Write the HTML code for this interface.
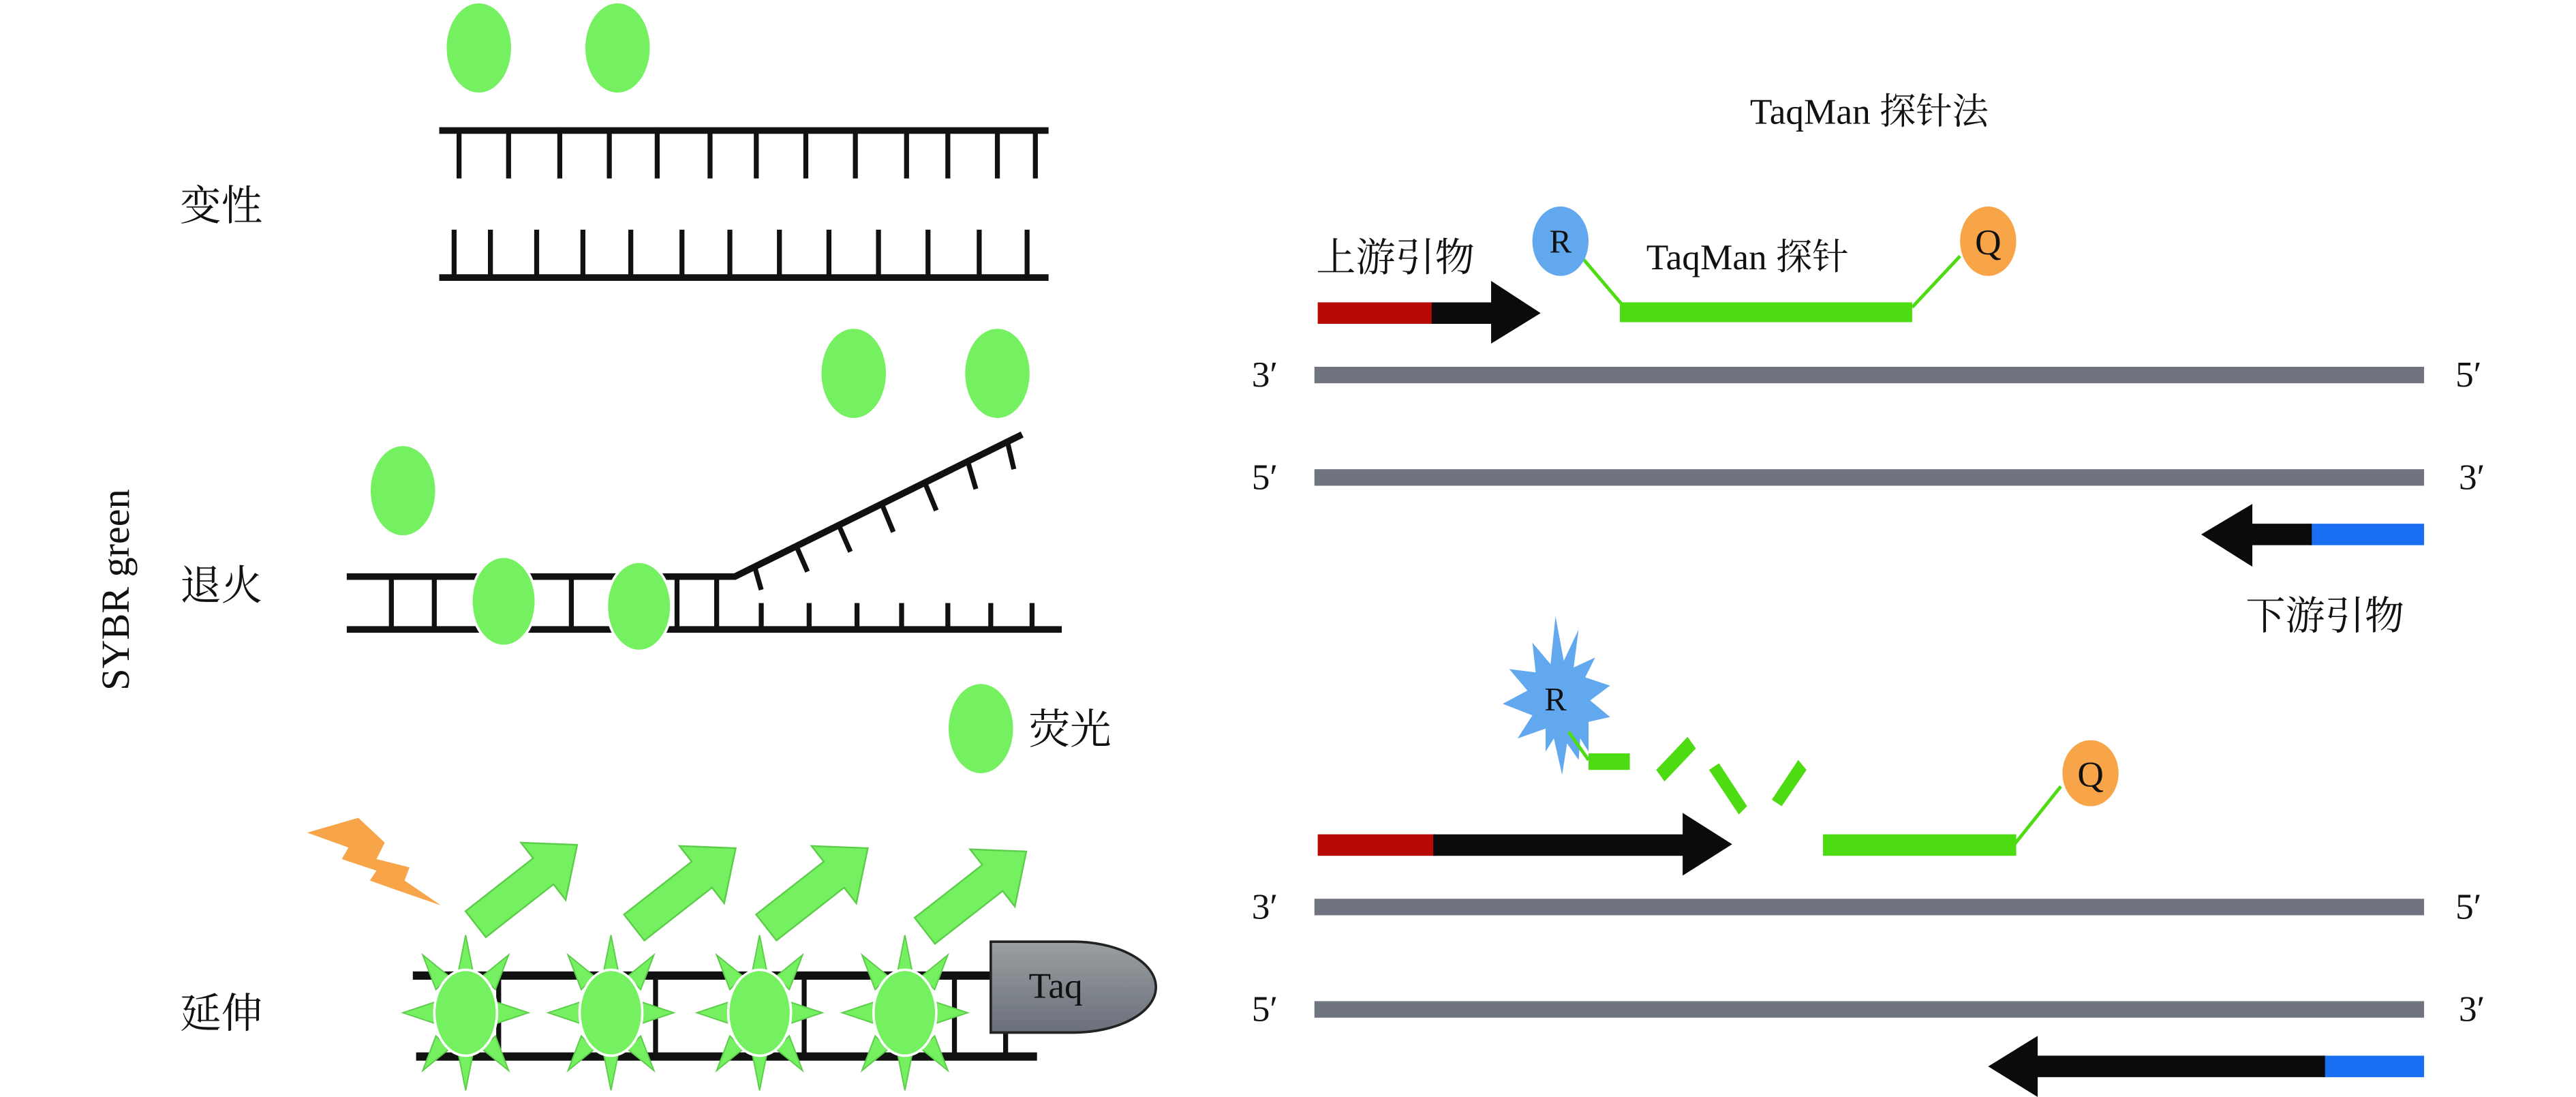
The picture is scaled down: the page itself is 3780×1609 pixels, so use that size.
<!DOCTYPE html>
<html><head><meta charset="utf-8"><style>
html,body{margin:0;padding:0;background:#fff;}
svg{display:block;}
text{font-family:"Liberation Serif","Noto Serif CJK SC",serif;fill:#111;}
</style></head><body>
<svg width="3780" height="1609" viewBox="0 0 1560 664" preserveAspectRatio="none" xmlns="http://www.w3.org/2000/svg">
<defs>
<linearGradient id="tg" x1="0" y1="0" x2="0" y2="1"><stop offset="0" stop-color="#9aa0a0"/><stop offset="1" stop-color="#6a6f7c"/></linearGradient>
<g id="arr"><polygon points="-38,-10 14,-10 14,-22 40,0 14,22 14,10 -38,10" fill="#74f060" stroke="#5ccc4a" stroke-width="1"/></g>
<g id="star" fill="#74f060" stroke="#5ccc4a" stroke-width="0.8">
<polygon points="0,-47 -5,-22 5,-22"/><polygon points="0,47 -5,22 5,22"/>
<polygon points="-38,0 -17,-7 -17,7"/><polygon points="38,0 17,-7 17,7"/>
<polygon points="-26,-35 -18,-14 -10,-22"/><polygon points="26,-35 18,-14 10,-22"/>
<polygon points="-26,35 -18,14 -10,22"/><polygon points="26,35 18,14 10,22"/>
<ellipse rx="19" ry="26" stroke="#fff" stroke-width="1.5"/></g>
</defs>

<!-- Denaturation -->
<ellipse cx="290" cy="29" rx="19.5" ry="27" fill="#74f060"/>
<ellipse cx="374" cy="29" rx="19.5" ry="27" fill="#74f060"/>
<rect x="266" y="77" width="369" height="4" fill="#111"/>
<g stroke="#111" stroke-width="3">
<line x1="278" y1="79" x2="278" y2="108"/><line x1="308" y1="79" x2="308" y2="108"/><line x1="339" y1="79" x2="339" y2="108"/><line x1="369" y1="79" x2="369" y2="108"/><line x1="398" y1="79" x2="398" y2="108"/><line x1="430" y1="79" x2="430" y2="108"/><line x1="458" y1="79" x2="458" y2="108"/><line x1="488" y1="79" x2="488" y2="108"/><line x1="518" y1="79" x2="518" y2="108"/><line x1="549" y1="79" x2="549" y2="108"/><line x1="574" y1="79" x2="574" y2="108"/><line x1="604" y1="79" x2="604" y2="108"/><line x1="627" y1="79" x2="627" y2="108"/>
<line x1="275" y1="168" x2="275" y2="139"/><line x1="297" y1="168" x2="297" y2="139"/><line x1="325" y1="168" x2="325" y2="139"/><line x1="353" y1="168" x2="353" y2="139"/><line x1="382" y1="168" x2="382" y2="139"/><line x1="413" y1="168" x2="413" y2="139"/><line x1="442" y1="168" x2="442" y2="139"/><line x1="472" y1="168" x2="472" y2="139"/><line x1="502" y1="168" x2="502" y2="139"/><line x1="532" y1="168" x2="532" y2="139"/><line x1="562" y1="168" x2="562" y2="139"/><line x1="593" y1="168" x2="593" y2="139"/><line x1="622" y1="168" x2="622" y2="139"/>
</g>
<rect x="266" y="166" width="369" height="4" fill="#111"/>
<text x="109" y="133" font-size="25">变性</text>

<!-- Annealing -->
<ellipse cx="517" cy="226" rx="19.5" ry="27" fill="#74f060"/>
<ellipse cx="604" cy="226" rx="19.5" ry="27" fill="#74f060"/>
<ellipse cx="244" cy="297" rx="19.5" ry="27" fill="#74f060"/>
<g stroke="#111" stroke-width="3">
<line x1="237" y1="349" x2="237" y2="381"/><line x1="263" y1="349" x2="263" y2="381"/><line x1="346" y1="349" x2="346" y2="381"/><line x1="410" y1="349" x2="410" y2="381"/><line x1="434" y1="349" x2="434" y2="381"/>
<line x1="461" y1="381" x2="461" y2="365"/><line x1="490" y1="381" x2="490" y2="365"/><line x1="519" y1="381" x2="519" y2="365"/><line x1="546" y1="381" x2="546" y2="365"/><line x1="574" y1="381" x2="574" y2="365"/><line x1="600" y1="381" x2="600" y2="365"/><line x1="625" y1="381" x2="625" y2="365"/>
<line x1="457" y1="343" x2="461" y2="357"/><line x1="482" y1="330" x2="489" y2="346"/><line x1="508" y1="318" x2="515" y2="334"/><line x1="534" y1="305" x2="541" y2="322"/><line x1="560" y1="292" x2="567" y2="309"/><line x1="586" y1="279" x2="591" y2="296"/><line x1="610" y1="267" x2="614" y2="284"/>
<polyline points="210,349 445,349 619,263" fill="none" stroke-width="4"/>
</g>
<rect x="210" y="379" width="433" height="4" fill="#111"/>
<ellipse cx="305" cy="364" rx="19.5" ry="27" fill="#74f060" stroke="#fff" stroke-width="1.5"/>
<ellipse cx="387" cy="367" rx="19.5" ry="27" fill="#74f060" stroke="#fff" stroke-width="1.5"/>
<text x="109" y="363" font-size="25">退火</text>
<text transform="translate(78,357) rotate(-90)" font-size="24" text-anchor="middle">SYBR green</text>

<ellipse cx="594" cy="441" rx="19.5" ry="27" fill="#74f060"/>
<text x="623" y="450" font-size="25">荧光</text>

<!-- Extension -->
<polygon points="186,504 217,495 233,510 228,520 248,525 245,533 267,548 238,538 224,533 228,527 207,520 211,513" fill="#f8a448"/>
<use href="#arr" transform="translate(318,536) rotate(-38)"/>
<use href="#arr" transform="translate(414,538) rotate(-38)"/>
<use href="#arr" transform="translate(494,538) rotate(-38)"/>
<use href="#arr" transform="translate(590,540) rotate(-38)"/>
<g stroke="#111" stroke-width="3"><line x1="302" y1="590" x2="302" y2="639"/><line x1="397" y1="590" x2="397" y2="639"/><line x1="487" y1="590" x2="487" y2="639"/><line x1="578" y1="590" x2="578" y2="639"/><line x1="609" y1="620" x2="609" y2="639"/></g>
<rect x="250" y="588" width="352" height="5" fill="#111"/>
<rect x="252" y="637" width="376" height="5" fill="#111"/>
<use href="#star" transform="translate(282,613)"/>
<use href="#star" transform="translate(370,613)"/>
<use href="#star" transform="translate(460,613)"/>
<use href="#star" transform="translate(548,613)"/>
<path d="M600 570 H650 A50 27.5 0 0 1 650 625 H600 Z" fill="url(#tg)" stroke="#222" stroke-width="1.5"/>
<text x="623" y="604" font-size="22">Taq</text>
<text x="109" y="622" font-size="25">延伸</text>

<!-- TaqMan -->
<text x="1132" y="75" font-size="22" text-anchor="middle">TaqMan 探针法</text>
<text x="797" y="164" font-size="24">上游引物</text>
<line x1="959" y1="157" x2="982" y2="184" stroke="#4ddc12" stroke-width="2"/>
<line x1="1187" y1="155" x2="1158" y2="186" stroke="#4ddc12" stroke-width="2"/>
<ellipse cx="945" cy="146" rx="17" ry="21" fill="#62a8ee"/>
<text x="945" y="153" font-size="20" text-anchor="middle">R</text>
<ellipse cx="1204" cy="146" rx="17" ry="21" fill="#f8a448"/>
<text x="1204" y="154" font-size="22" text-anchor="middle">Q</text>
<text x="997" y="163" font-size="22">TaqMan 探针</text>
<rect x="981" y="183" width="177" height="12" fill="#4ddc12"/>
<rect x="798" y="183" width="70" height="13" fill="#b80a04"/>
<polygon points="867,183 903,183 903,170 933,189.5 903,208 903,196 867,196" fill="#0b0b0b"/>
<rect x="796" y="222" width="672" height="10" fill="#6f7480"/>
<rect x="796" y="284" width="672" height="10" fill="#6f7480"/>
<text x="758" y="234" font-size="22">3′</text><text x="1487" y="234" font-size="22">5′</text>
<text x="758" y="296" font-size="22">5′</text><text x="1489" y="296" font-size="22">3′</text>
<rect x="1399" y="317" width="69" height="13" fill="#1a6ef2"/>
<polygon points="1400,317 1364,317 1364,305 1333,323.5 1364,343 1364,330 1400,330" fill="#0b0b0b"/>
<text x="1360" y="381" font-size="24">下游引物</text>

<!-- cleaved -->
<polygon points="942,373 947,400 956,381 953,404 966,398 960,410 975,415 963,424 975,434 962,437 962,455 957,447 956,460 949,450 946,469 941,447 936,455 936,441 919,447 928,433 910,426 925,418 914,405 930,407 928,389 939,402" fill="#62a8ee"/>
<text x="942" y="430" font-size="20" text-anchor="middle">R</text>
<line x1="950" y1="443" x2="962" y2="460" stroke="#4ddc12" stroke-width="2"/>
<rect x="962" y="456" width="25" height="10" fill="#4ddc12"/>
<polygon points="1003,466 1022,446 1027,453 1008,473" fill="#4ddc12"/>
<polygon points="1035,466 1041,462 1058,488 1053,493" fill="#4ddc12"/>
<polygon points="1089,460 1094,466 1079,488 1073,484" fill="#4ddc12"/>
<line x1="1248" y1="476" x2="1220" y2="511" stroke="#4ddc12" stroke-width="2"/>
<ellipse cx="1266" cy="468" rx="17" ry="20" fill="#f8a448"/>
<text x="1266" y="476" font-size="22" text-anchor="middle">Q</text>
<rect x="1104" y="505" width="117" height="13" fill="#4ddc12"/>
<rect x="798" y="505" width="71" height="13" fill="#b80a04"/>
<polygon points="868,505 1019,505 1019,492 1049,511 1019,530 1019,518 868,518" fill="#0b0b0b"/>
<rect x="796" y="544" width="672" height="10" fill="#6f7480"/>
<rect x="796" y="606" width="672" height="10" fill="#6f7480"/>
<text x="758" y="556" font-size="22">3′</text><text x="1487" y="556" font-size="22">5′</text>
<text x="758" y="618" font-size="22">5′</text><text x="1489" y="618" font-size="22">3′</text>
<rect x="1407" y="639" width="61" height="13" fill="#1a6ef2"/>
<polygon points="1408,639 1234,639 1234,627 1204,645.5 1234,664 1234,652 1408,652" fill="#0b0b0b"/>
</svg>
</body></html>
